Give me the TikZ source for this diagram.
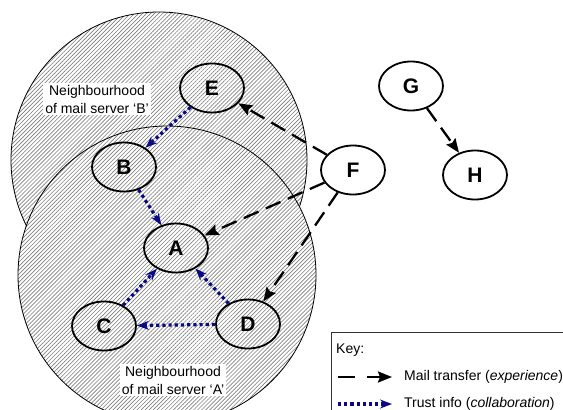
\documentclass[tikz,border=0pt]{standalone}
\usepackage{fontspec}
\setmainfont{Liberation Sans}
\usetikzlibrary{shapes.geometric,arrows.meta,patterns.meta}
\definecolor{trustblue}{RGB}{10,10,135}
\tikzset{
  srv/.style={ellipse, draw, line width=1.8pt, minimum width=64pt, minimum height=49pt,
    inner sep=0pt, font=\fontsize{21}{21}\selectfont\bfseries},
  hood/.style={draw=black, line width=0.8pt, preaction={fill=white},
    pattern={Lines[angle=45,distance=2.85pt,line width=0.65pt]}, pattern color=black!50},
  hoodlabel/.style={fill=white, inner sep=2pt, align=center,
    font=\fontsize{14}{18}\selectfont},
  keytext/.style={anchor=west, inner sep=0pt, font=\fontsize{14}{16}\selectfont},
  mail/.style={line width=2.3pt, dash pattern=on 16pt off 8pt,
    -{Stealth[length=14pt,width=11pt,inset=2pt]}},
  trust/.style={trustblue, line width=3.2pt, dash pattern=on 3.2pt off 3pt,
    -{Stealth[length=12pt,width=9pt,inset=4pt]}}
}
\begin{document}
\begin{tikzpicture}[x=1pt,y=-1pt]
  % canvas
  \fill[white] (0,0) rectangle (563,410);
  \useasboundingbox (0,0) rectangle (563,410);

  % neighbourhoods of the two mail servers
  \path[hood] (159,160) circle[radius=148];
  \path[hood] (167,275) circle[radius=149];
  \node[hoodlabel] (labB) at (97,99) {Neighbourhood\\of mail server ‘B’};
  \node[hoodlabel] (labA) at (173,380) {Neighbourhood\\of mail server ‘A’};

  % mail servers
  \node[srv] (E) at (212,88) {E};
  \node[srv] (B) at (124,167) {B};
  \node[srv] (A) at (176,248) {A};
  \node[srv] (C) at (104,326) {C};
  \node[srv] (D) at (248,324) {D};
  \node[srv] (F) at (353,170) {F};
  \node[srv] (G) at (411,86) {G};
  \node[srv] (H) at (475,175) {H};

  % mail transfer
  \draw[mail] (F) -- (E);
  \draw[mail] (F) -- (A);
  \draw[mail] (F) -- (D);
  \draw[mail] (G) -- (H);

  % trust information
  \draw[trust] (E) -- (B);
  \draw[trust] (B) -- (A);
  \draw[trust] (C) -- (A);
  \draw[trust] (D) -- (A);
  \draw[trust] (D) -- (C);

  % key
  \node[draw=black!80, line width=0.8pt, anchor=north west, minimum width=300pt,
    minimum height=110pt] (keybox) at (331,332) {};
  \node[keytext] (keyhead) at (336,350) {Key:};
  \coordinate (m1) at (338,377);
  \coordinate (m2) at (392,377);
  \coordinate (t1) at (338,404);
  \coordinate (t2) at (392,404);
  \draw[mail, dash pattern=on 17pt off 12pt] (m1) -- (m2);
  \draw[trust] (t1) -- (t2);
  \node[keytext] (keymail) at (404,377) {Mail transfer (\textit{experience})};
  \node[keytext] (keytrust) at (404,404) {Trust info (\textit{collaboration})};
\end{tikzpicture}
\end{document}
